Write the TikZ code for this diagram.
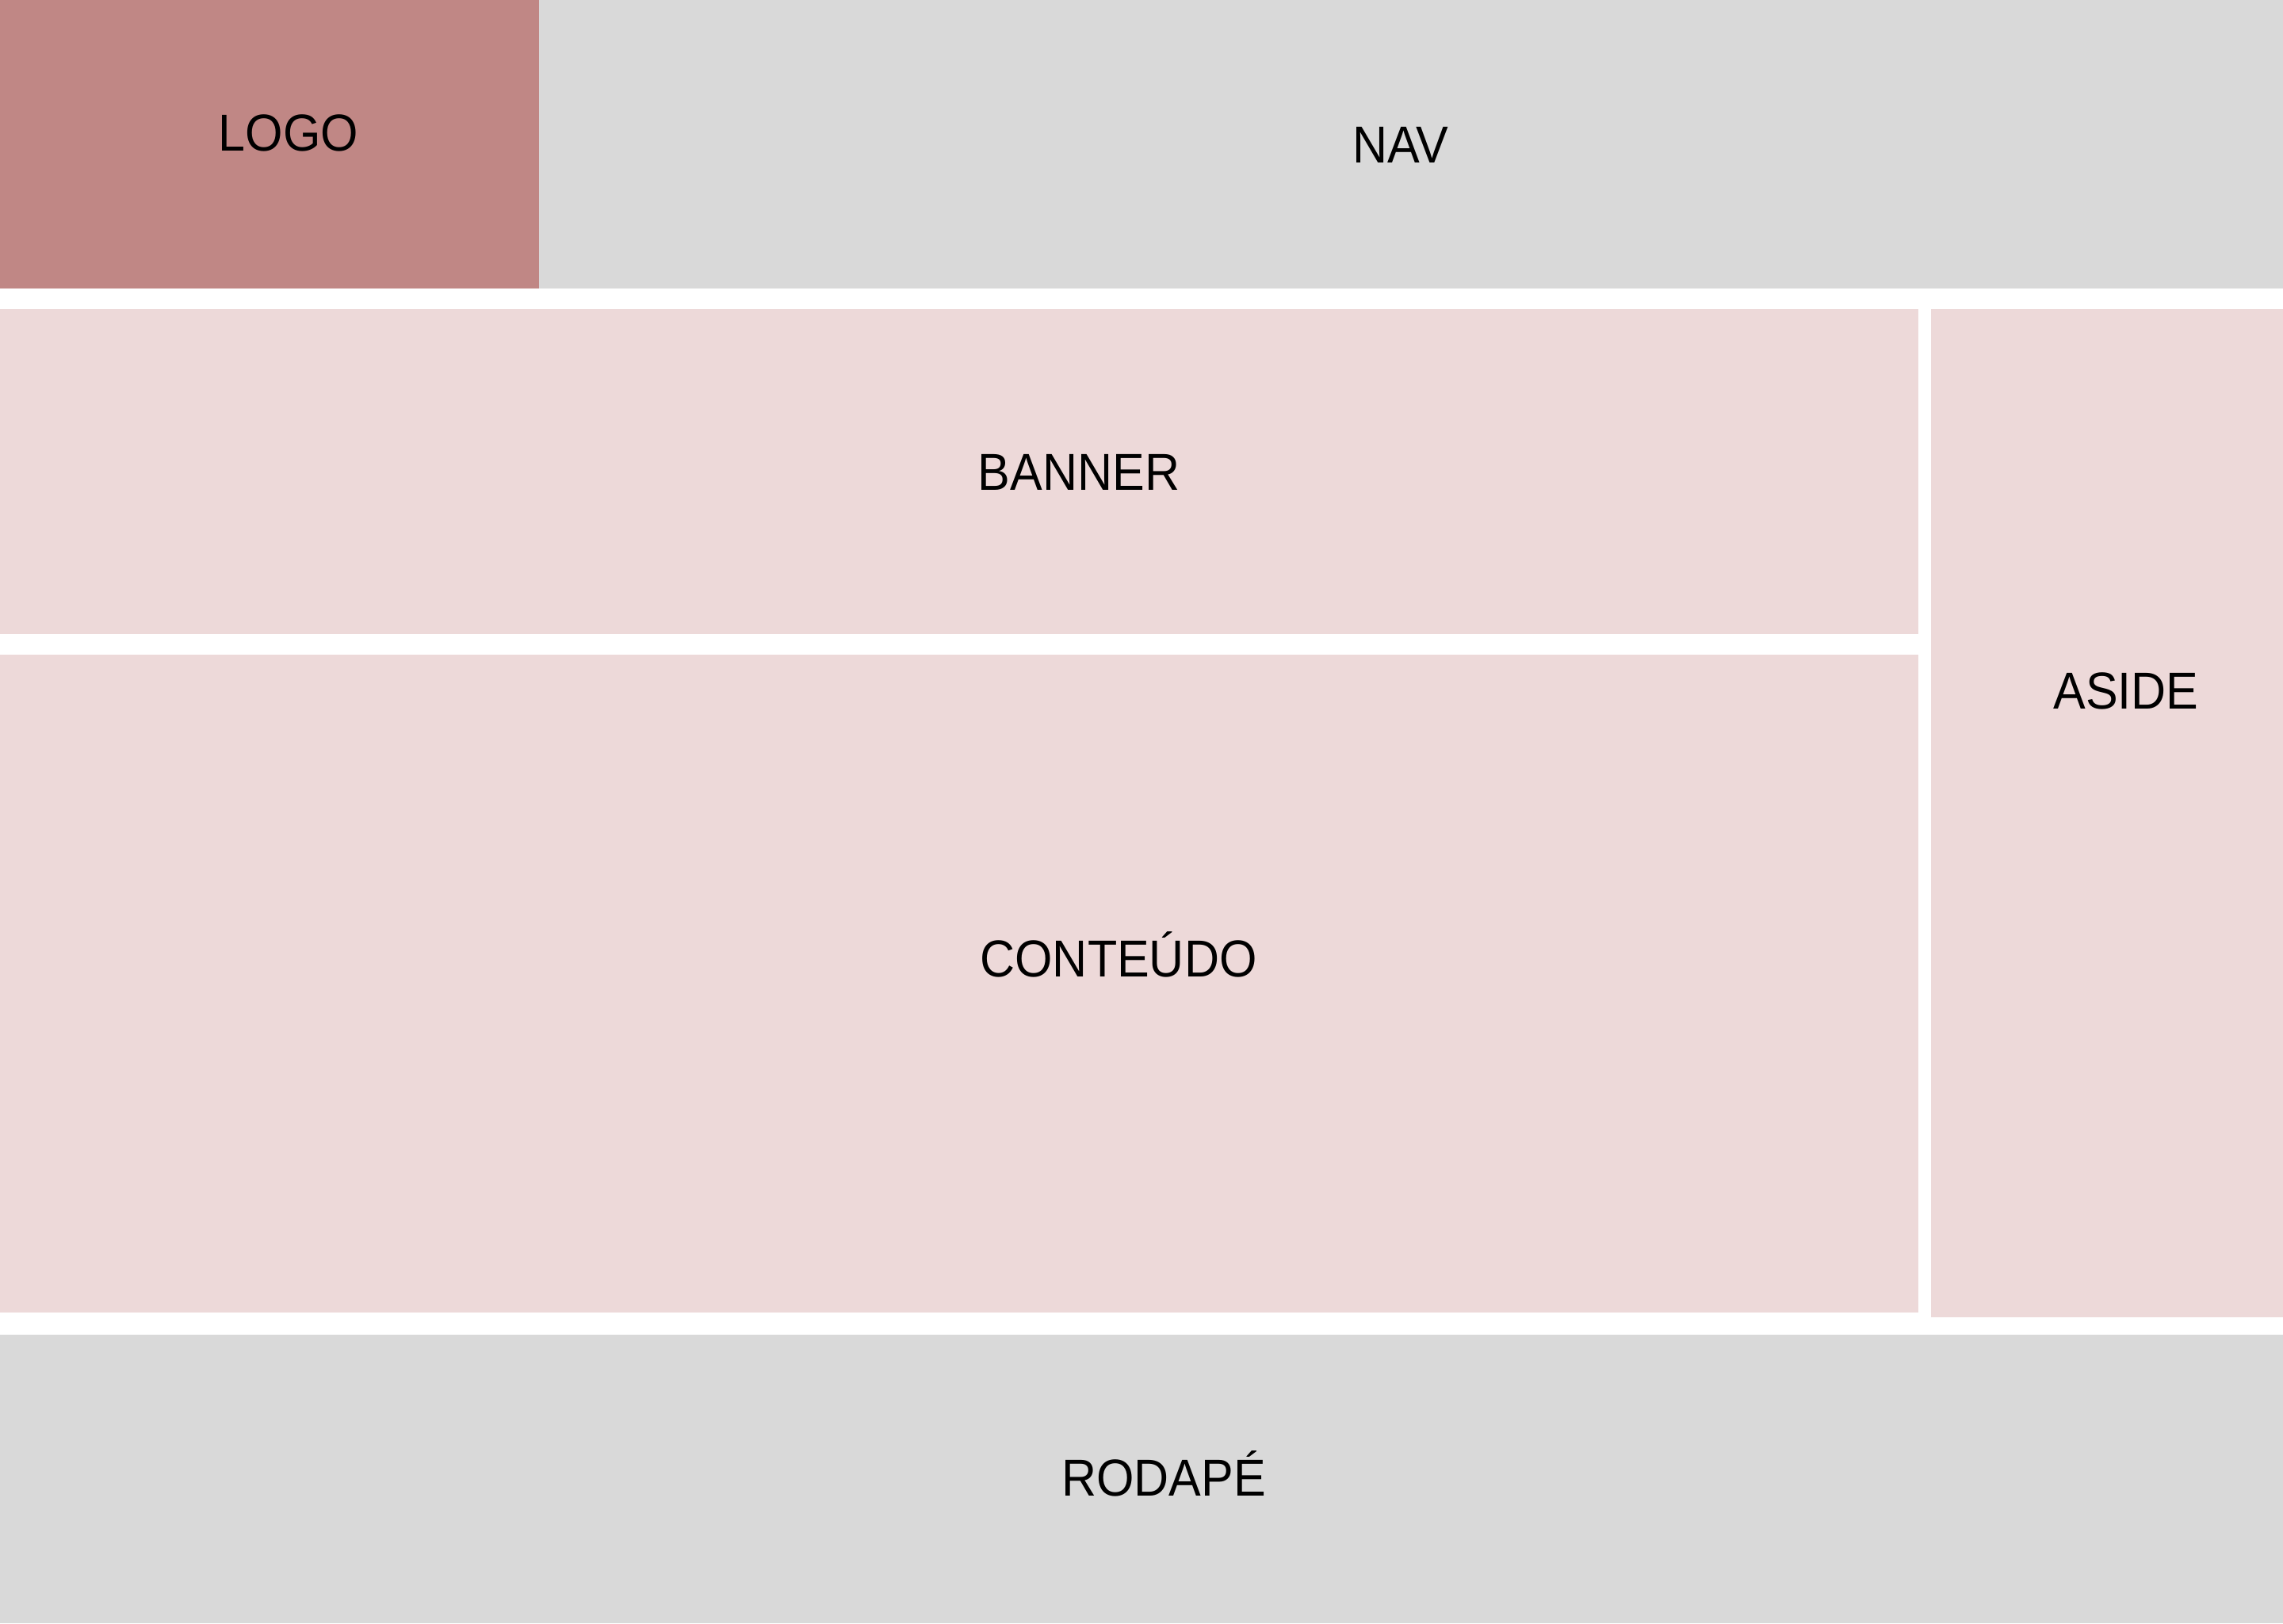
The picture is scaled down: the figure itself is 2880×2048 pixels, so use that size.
\documentclass[tikz,border=0pt]{standalone}
\usepackage{fontspec}
\setmainfont[FakeStretch=0.93]{Liberation Sans}
\definecolor{logoc}{HTML}{C08785}
\definecolor{grayc}{HTML}{D9D9D9}
\definecolor{pinkc}{HTML}{EDD9D9}
\begin{document}
\begin{tikzpicture}[x=0.25pt,y=-0.25pt,
  lbl/.style={anchor=base,inner sep=0pt,font=\fontsize{16.4}{18}\selectfont,text=black}]
\useasboundingbox (0,0) rectangle (2880,2048);
\fill[white] (0,0) rectangle (2880,2048);
% boxes
\fill[logoc] (0,0) rectangle (680,364);
\fill[grayc] (680,0) rectangle (2880,364);
\fill[pinkc] (0,390) rectangle (2420,800);
\fill[pinkc] (0,826) rectangle (2420,1656);
\fill[pinkc] (2436,390) rectangle (2880,1662);
\fill[grayc] (0,1684) rectangle (2880,2048);
% labels
\node[lbl] (logo) at (364,190) {LOGO};
\node[lbl] (nav) at (1767,205) {NAV};
\node[lbl] (banner) at (1361,618) {BANNER};
\node[lbl] (conteudo) at (1411,1232) {CONTEÚDO};
\node[lbl] (aside) at (2682,894) {ASIDE};
\node[lbl] (rodape) at (1468,1887) {RODAPÉ};
\end{tikzpicture}
\end{document}
